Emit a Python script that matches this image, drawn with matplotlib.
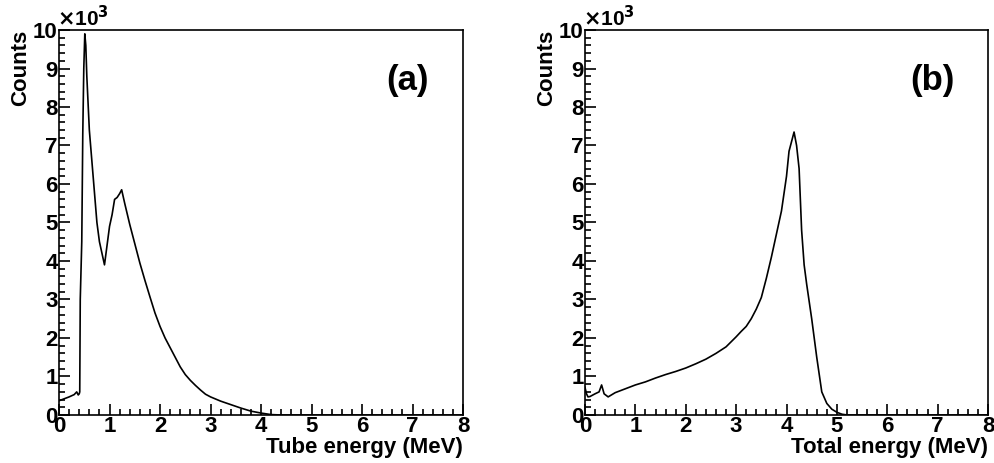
import matplotlib
matplotlib.use("Agg")
import matplotlib.pyplot as plt
from matplotlib.ticker import MultipleLocator

plt.rcParams['font.family'] = ['Liberation Sans', 'DejaVu Sans']
plt.rcParams['font.weight'] = 'bold'

# panel (a): tube energy spectrum (MeV, counts x10^3)
tube_e = [0.0, 0.1, 0.2, 0.3, 0.35, 0.38, 0.40, 0.41, 0.42, 0.45, 0.47, 0.49, 0.51,
          0.53, 0.55, 0.6, 0.65, 0.7, 0.75, 0.8, 0.85, 0.9, 0.95, 1.0, 1.05, 1.1,
          1.15, 1.2, 1.24, 1.3, 1.4, 1.5, 1.6, 1.7, 1.8, 1.9, 2.0, 2.1, 2.2, 2.3,
          2.4, 2.5, 2.6, 2.7, 2.8, 2.9, 3.0, 3.2, 3.4, 3.6, 3.8, 4.0, 4.2, 4.4, 8.0]
tube_counts = [0.37, 0.42, 0.47, 0.53, 0.6, 0.52, 0.55, 0.6, 3.0, 4.5, 7.3, 9.0, 9.9,
               9.6, 8.8, 7.4, 6.6, 5.8, 5.0, 4.5, 4.2, 3.9, 4.4, 4.9, 5.2, 5.6,
               5.65, 5.75, 5.85, 5.5, 4.95, 4.45, 3.95, 3.5, 3.07, 2.65, 2.3, 2.0, 1.75, 1.5,
               1.25, 1.05, 0.9, 0.77, 0.65, 0.54, 0.47, 0.36, 0.27, 0.18, 0.1, 0.05, 0.01, 0.0, 0.0]

# panel (b): total energy spectrum
total_e = [0.0, 0.03, 0.06, 0.1, 0.2, 0.28, 0.33, 0.38, 0.46, 0.6, 0.8, 1.0, 1.2, 1.4,
           1.6, 1.8, 2.0, 2.2, 2.4, 2.6, 2.8, 3.0, 3.1, 3.2, 3.3, 3.4, 3.5, 3.6, 3.7,
           3.8, 3.9, 4.0, 4.05, 4.1, 4.15, 4.2, 4.25, 4.3, 4.35, 4.4, 4.5, 4.6, 4.7,
           4.8, 4.9, 5.0, 5.1, 5.2, 8.0]
total_counts = [0.72, 0.55, 0.47, 0.48, 0.55, 0.6, 0.78, 0.55, 0.47, 0.58, 0.68, 0.78, 0.86, 0.96,
                1.05, 1.13, 1.22, 1.33, 1.45, 1.6, 1.77, 2.03, 2.17, 2.3, 2.5, 2.75, 3.05, 3.55, 4.1,
                4.7, 5.3, 6.2, 6.85, 7.1, 7.35, 7.0, 6.4, 4.8, 3.9, 3.4, 2.5, 1.5, 0.6,
                0.3, 0.15, 0.07, 0.02, 0.0, 0.0]

panels = [
    (tube_e, tube_counts, 'Tube energy (MeV)', '(a)', [0.0594, 0.1037, 0.4064, 0.8315]),
    (total_e, total_counts, 'Total energy (MeV)', '(b)', [0.5885, 0.1037, 0.4055, 0.8315]),
]

fig = plt.figure(figsize=(9.94, 4.63), dpi=100)

for e, c, xlabel, tag, rect in panels:
    ax = fig.add_axes(rect)
    ax.plot(e, c, color='black', lw=1.2)
    ax.set_xlim(0, 8)
    ax.set_ylim(0, 10)
    ax.xaxis.set_major_locator(MultipleLocator(1))
    ax.xaxis.set_minor_locator(MultipleLocator(0.2))
    ax.yaxis.set_major_locator(MultipleLocator(1))
    ax.yaxis.set_minor_locator(MultipleLocator(0.2))
    ax.tick_params(which='both', direction='in', top=False, right=False,
                   labelsize=16, width=1.2)
    ax.tick_params(which='major', length=8, pad=1)
    ax.tick_params(which='minor', length=4)
    for s in ax.spines.values():
        s.set_linewidth(1.2)
    ax.set_xlabel(xlabel, loc='right', fontsize=16, fontweight='bold', labelpad=0)
    ax.set_ylabel('Counts', loc='top', fontsize=16, fontweight='bold')
    ax.yaxis.set_label_coords(-0.07, 1.0)
    ax.text(-0.005, 1.0, r'$\times$10$^{3}$', transform=ax.transAxes,
            fontsize=15, ha='left', va='bottom')
    ax.text(0.862, 0.87, tag, transform=ax.transAxes, fontsize=25,
            fontweight='bold', ha='center', va='center')

fig.savefig('out.png', dpi=100)
